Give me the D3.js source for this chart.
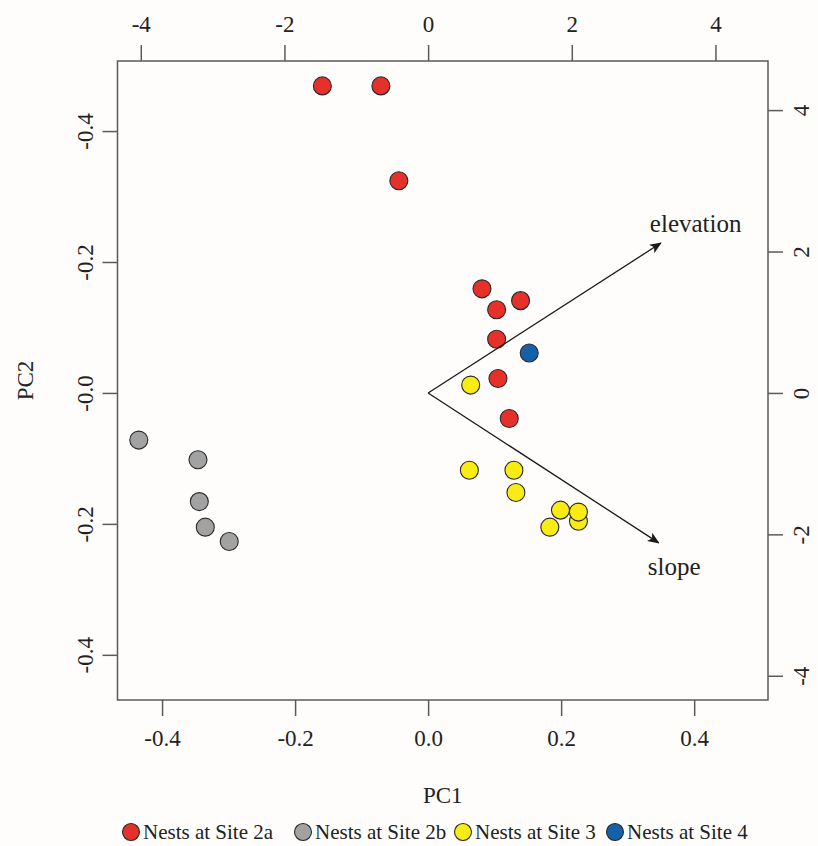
<!DOCTYPE html>
<html>
<head>
<meta charset="utf-8">
<script src="https://cdn.jsdelivr.net/npm/d3@7/dist/d3.min.js"></script>
<style>
  html, body { margin: 0; padding: 0; background: #fefdfb; }
  svg { display: block; }
  text { font-family: "Liberation Serif", "DejaVu Serif", serif; fill: #222; }
</style>
</head>
<body>
<svg id="chart" width="818" height="846"></svg>
<script>
// PCA scores (PC1, PC2) of the nests, grouped by site
const siteNames = ["Nests at Site 2a", "Nests at Site 2b", "Nests at Site 3", "Nests at Site 4"];
const site2aPC1 = [-0.159, -0.071, -0.044, 0.081, 0.139, 0.103, 0.103, 0.105, 0.122];
const site2aPC2 = [0.469, 0.469, 0.324, 0.159, 0.141, 0.127, 0.082, 0.022, -0.039];
const site2bPC1 = [-0.435, -0.346, -0.344, -0.335, -0.299];
const site2bPC2 = [-0.072, -0.102, -0.166, -0.205, -0.227];
const site3PC1 = [0.064, 0.062, 0.129, 0.132, 0.199, 0.226, 0.226, 0.183];
const site3PC2 = [0.012, -0.118, -0.118, -0.152, -0.179, -0.196, -0.182, -0.205];
const site4PC1 = [0.152];
const site4PC2 = [0.061];

// Variable loadings (top / right axes)
const loadingNames = ["elevation", "slope"];
const loadingPC1 = [3.24, 3.21];
const loadingPC2 = [2.12, -2.12];

// Tick values and labels
const pc1Ticks = [-0.4, -0.2, 0.0, 0.2, 0.4];
const pc1TickLabels = ["-0.4", "-0.2", "0.0", "0.2", "0.4"];
const pc2Ticks = [0.4, 0.2, 0.0, -0.2, -0.4];
const pc2TickLabels = ["-0.4", "-0.2", "-0.0", "-0.2", "-0.4"];
const loadingTicks = [-4, -2, 0, 2, 4];
const loadingTickLabels = ["-4", "-2", "0", "2", "4"];

// Styles
const siteFill = ["#e5312a", "#a2a2a2", "#f9ec14", "#1660a9"];
const axisColor = "#5a5a5a";
const tickFont = 23;

const svg = d3.select("#chart");
const box = { left: 117.5, right: 768, top: 61, bottom: 700 };

const pc1Domain = [-0.467, 0.511];
const pc2Domain = [-0.469, 0.507];
const loadRatio = 0.108; // loading units -> score units

const x = d3.scaleLinear().domain(pc1Domain).range([box.left, box.right]);
const y = d3.scaleLinear().domain(pc2Domain).range([box.bottom, box.top]);
const x2 = d3.scaleLinear().domain(pc1Domain.map(v => v / loadRatio)).range([box.left, box.right]);
const y2 = d3.scaleLinear().domain(pc2Domain.map(v => v / loadRatio)).range([box.bottom, box.top]);

// Plot frame
svg.append("rect")
  .attr("x", box.left).attr("y", box.top)
  .attr("width", box.right - box.left).attr("height", box.bottom - box.top)
  .attr("fill", "none").attr("stroke", axisColor).attr("stroke-width", 1.5);

function styleAxis(g) {
  g.select(".domain").remove();
  g.selectAll(".tick line").attr("stroke", axisColor).attr("stroke-width", 1.5);
  g.selectAll(".tick text")
    .attr("font-family", '"Liberation Serif", serif')
    .attr("font-size", tickFont).attr("fill", "#222");
}

// Bottom axis: PC1
svg.append("g")
  .attr("transform", `translate(0,${box.bottom})`)
  .call(d3.axisBottom(x).tickValues(pc1Ticks).tickFormat((d, i) => pc1TickLabels[i]).tickSize(16).tickPadding(14))
  .call(styleAxis);

// Top axis: loadings
svg.append("g")
  .attr("transform", `translate(0,${box.top})`)
  .call(d3.axisTop(x2).tickValues(loadingTicks).tickFormat((d, i) => loadingTickLabels[i]).tickSize(16).tickPadding(13))
  .call(styleAxis);

// Left axis: PC2 (labels parallel to the axis)
const leftAxis = svg.append("g")
  .attr("transform", `translate(${box.left},0)`)
  .call(d3.axisLeft(y).tickValues(pc2Ticks).tickFormat((d, i) => pc2TickLabels[i]).tickSize(15))
  .call(styleAxis);
leftAxis.selectAll(".tick text")
  .attr("x", null).attr("dy", null)
  .attr("text-anchor", "middle")
  .attr("transform", "translate(-33,0) rotate(-90)")
  .attr("dy", "0.35em");

// Right axis: loadings
const rightAxis = svg.append("g")
  .attr("transform", `translate(${box.right},0)`)
  .call(d3.axisRight(y2).tickValues(loadingTicks).tickFormat((d, i) => loadingTickLabels[i]).tickSize(15))
  .call(styleAxis);
rightAxis.selectAll(".tick text")
  .attr("x", null).attr("dy", null)
  .attr("text-anchor", "middle")
  .attr("transform", "translate(33,0) rotate(-90)")
  .attr("dy", "0.35em");

// Axis titles
svg.append("text")
  .attr("x", (box.left + box.right) / 2).attr("y", 795)
  .attr("text-anchor", "middle").attr("dy", "0.35em")
  .attr("font-size", 23).text("PC1");
svg.append("text")
  .attr("transform", `translate(25,${(box.top + box.bottom) / 2}) rotate(-90)`)
  .attr("text-anchor", "middle").attr("dy", "0.35em")
  .attr("font-size", 23).text("PC2");

// Score points
const groups = [
  [site2aPC1, site2aPC2],
  [site2bPC1, site2bPC2],
  [site3PC1, site3PC2],
  [site4PC1, site4PC2]
];
const points = [];
groups.forEach(([px, py], g) => px.forEach((v, i) => points.push({ pc1: v, pc2: py[i], g })));

svg.append("g").selectAll("circle")
  .data(points).enter().append("circle")
  .attr("cx", d => x(d.pc1)).attr("cy", d => y(d.pc2)).attr("r", 9)
  .attr("fill", d => siteFill[d.g])
  .attr("stroke", "#2a2a2a").attr("stroke-width", 1.1);

// Loading arrows
const defs = svg.append("defs");
defs.append("marker")
  .attr("id", "head").attr("viewBox", "0 0 12 10")
  .attr("refX", 11).attr("refY", 5)
  .attr("markerWidth", 12).attr("markerHeight", 10)
  .attr("markerUnits", "userSpaceOnUse").attr("orient", "auto")
  .append("path").attr("d", "M0,0 L12,5 L0,10 L3,5 Z").attr("fill", "#1a1a1a");

const arrows = loadingNames.map((n, i) => ({ name: n, lx: loadingPC1[i], ly: loadingPC2[i] }));
svg.append("g").selectAll("line")
  .data(arrows).enter().append("line")
  .attr("x1", x2(0)).attr("y1", y2(0))
  .attr("x2", d => x2(d.lx)).attr("y2", d => y2(d.ly))
  .attr("stroke", "#1a1a1a").attr("stroke-width", 1.3)
  .attr("marker-end", "url(#head)");

svg.append("g").selectAll("text")
  .data(arrows).enter().append("text")
  .attr("x", d => x2(d.lx) - 11)
  .attr("y", d => y2(d.ly) + (d.ly > 0 ? -11 : 32))
  .attr("font-size", 25)
  .text(d => d.name);

// Legend
const legendX = [131, 303, 463, 615];
const legend = svg.append("g").selectAll("g")
  .data(siteNames).enter().append("g")
  .attr("transform", (d, i) => `translate(${legendX[i]},832)`);
legend.append("circle").attr("r", 8.5)
  .attr("fill", (d, i) => siteFill[i])
  .attr("stroke", "#2a2a2a").attr("stroke-width", 1.1);
legend.append("text")
  .attr("x", 12).attr("dy", "0.35em")
  .attr("font-size", 21)
  .text(d => d);
</script>
</body>
</html>
